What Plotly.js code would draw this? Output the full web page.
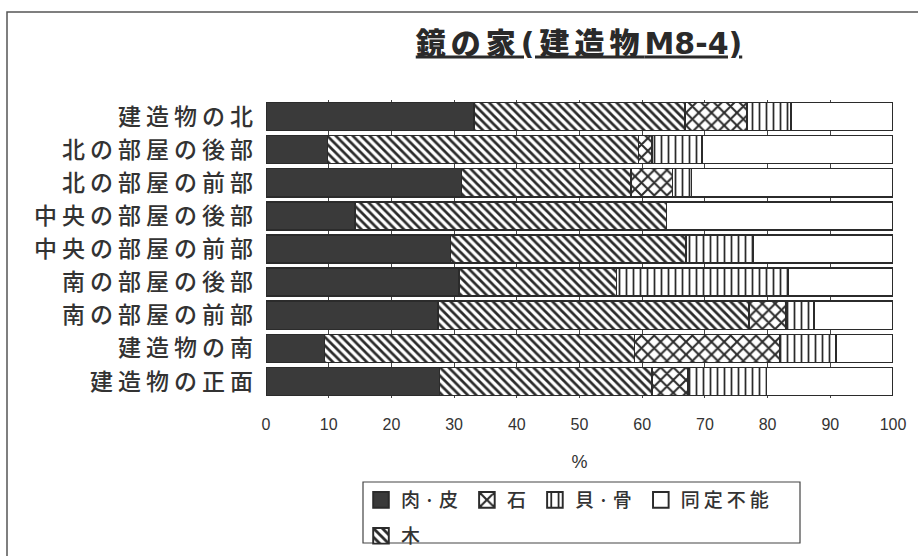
<!DOCTYPE html>
<html>
<head>
<meta charset="utf-8">
<script src="https://cdn.plot.ly/plotly-3.0.1.min.js"></script>
<style>
  html, body { margin: 0; padding: 0; background: #fff; }
  #chart { width: 918px; height: 556px; }
  /* wide-set Japanese lettering (global so Plotly's text measuring sees it too) */
  .ytick text { letter-spacing: 5px; }
  .legendtext { letter-spacing: 4px; }
  .gtitle { letter-spacing: 5px; }
  /* slightly larger legend swatches */
  .legendpoints path { transform: translate(20px, 0px) scale(1.3); }
</style>
</head>
<body>
<div id="chart"></div>
<script>
// Locations inside the structure, listed top to bottom
const locations = [
  '建造物の北',
  '北の部屋の後部',
  '北の部屋の前部',
  '中央の部屋の後部',
  '中央の部屋の前部',
  '南の部屋の後部',
  '南の部屋の前部',
  '建造物の南',
  '建造物の正面'
];

// Share of each material (%) at every location
const meatSkin     = [33.2,  9.8, 31.2, 14.2, 29.4, 30.8, 27.4,  9.3, 27.7];
const wood         = [33.6, 49.6, 27.0, 49.7, 37.6, 25.1, 49.6, 49.5, 33.9];
const stone        = [ 9.9,  2.2,  6.6,  0.0,  0.0,  0.0,  5.9, 23.1,  5.7];
const shellBone    = [ 7.0,  7.9,  3.1,  0.0, 10.7, 27.4,  4.5,  9.0, 12.5];
const unidentified = [16.3, 30.5, 32.1, 36.1, 22.3, 16.7, 12.6,  9.1, 20.2];

const percentTicks = [0, 10, 20, 30, 40, 50, 60, 70, 80, 90, 100];

// Page geometry
const W = 918, H = 556;
const M = { l: 266, r: 25, t: 100, b: 158 };
const PW = W - M.l - M.r, PH = H - M.t - M.b;
const px = x => (x - M.l) / PW;          // pixel -> paper x
const py = y => (H - M.b - y) / PH;      // pixel -> paper y
const cx = x => x / W;                   // pixel -> container x
const cy = y => 1 - y / H;               // pixel -> container y

const INK = '#2b2b2b';
const TEXT = '#333';
const JP = "'Noto Sans CJK JP', 'Noto Sans CJK SC', sans-serif";

function barTrace(name, values, opts) {
  const marker = {
    color: opts.fill || '#fff',
    line: { color: INK, width: 1.5 }
  };
  if (opts.shape) {
    marker.pattern = {
      shape: opts.shape,
      fgcolor: INK,
      bgcolor: '#fff',
      size: opts.size,
      solidity: opts.solidity
    };
  }
  return {
    type: 'bar',
    orientation: 'h',
    name: name,
    y: locations,
    x: values,
    marker: marker,
    legend: opts.legend,
    hoverinfo: 'skip'
  };
}

const data = [
  barTrace('肉·皮', meatSkin, { fill: '#3a3a3a', legend: 'legend' }),
  barTrace('木', wood, { shape: '\\', size: 6, solidity: 0.45, legend: 'legend2' }),
  barTrace('石', stone, { shape: 'x', size: 9, solidity: 0.4, legend: 'legend' }),
  barTrace('貝·骨', shellBone, { shape: '|', size: 7, solidity: 0.25, legend: 'legend' }),
  barTrace('同定不能', unidentified, { fill: '#fff', legend: 'legend' })
];

const legendCommon = {
  orientation: 'h',
  xref: 'container',
  yref: 'container',
  xanchor: 'left',
  yanchor: 'top',
  traceorder: 'normal',
  bgcolor: 'rgba(0,0,0,0)',
  borderwidth: 0,
  font: { family: JP, size: 19, weight: 500, color: TEXT }
};

const layout = {
  width: W,
  height: H,
  margin: M,
  paper_bgcolor: '#fff',
  plot_bgcolor: '#fff',
  barmode: 'stack',
  bargap: 0.15,
  showlegend: true,
  title: {
    // Japanese part spaced wide, the Latin code set tight
    text: '鏡の家(建造物<span style="letter-spacing:0px">M8-4)</span>',
    font: { family: "'DejaVu Sans', 'Noto Sans CJK JP', sans-serif", size: 30, weight: 900, color: '#2a2a2a', lineposition: 'under' },
    xref: 'container', x: cx(579), xanchor: 'center',
    yref: 'container', y: cy(43), yanchor: 'middle'
  },
  xaxis: {
    range: [0, 100],
    tickvals: percentTicks,
    ticktext: percentTicks.map(String),
    showgrid: true,
    gridcolor: '#444',
    gridwidth: 1,
    zeroline: false,
    showline: false,
    ticks: '',
    automargin: false,
    ticklabelstandoff: 15,
    tickfont: { family: "'Liberation Sans', Arial, sans-serif", size: 16, color: TEXT },
    title: { text: '%', standoff: 23, font: { family: "'Liberation Sans', Arial, sans-serif", size: 18, color: TEXT } },
    fixedrange: true
  },
  yaxis: {
    type: 'category',
    categoryorder: 'array',
    categoryarray: locations,
    range: [8.5, -0.5],
    showgrid: false,
    zeroline: false,
    showline: false,
    ticks: '',
    automargin: false,
    ticklabelstandoff: 7,
    tickfont: { family: JP, size: 23, weight: 500, color: TEXT },
    fixedrange: true
  },
  legend: Object.assign({}, legendCommon, { x: cx(361), y: cy(481) }),
  legend2: Object.assign({}, legendCommon, { x: cx(361), y: cy(517) }),
  shapes: [
    // outer frame of the figure
    { type: 'rect', xref: 'paper', yref: 'paper', x0: px(7), x1: px(940), y0: py(12), y1: py(580),
      line: { color: '#555', width: 1.5 }, fillcolor: 'rgba(0,0,0,0)', layer: 'below' },
    // box around the legend
    { type: 'rect', xref: 'paper', yref: 'paper', x0: px(363), x1: px(800), y0: py(482), y1: py(543),
      line: { color: '#444', width: 1.2 }, fillcolor: 'rgba(0,0,0,0)', layer: 'below' }
  ]
};

Plotly.newPlot('chart', data, layout, { staticPlot: true, displayModeBar: false });
</script>
</body>
</html>
